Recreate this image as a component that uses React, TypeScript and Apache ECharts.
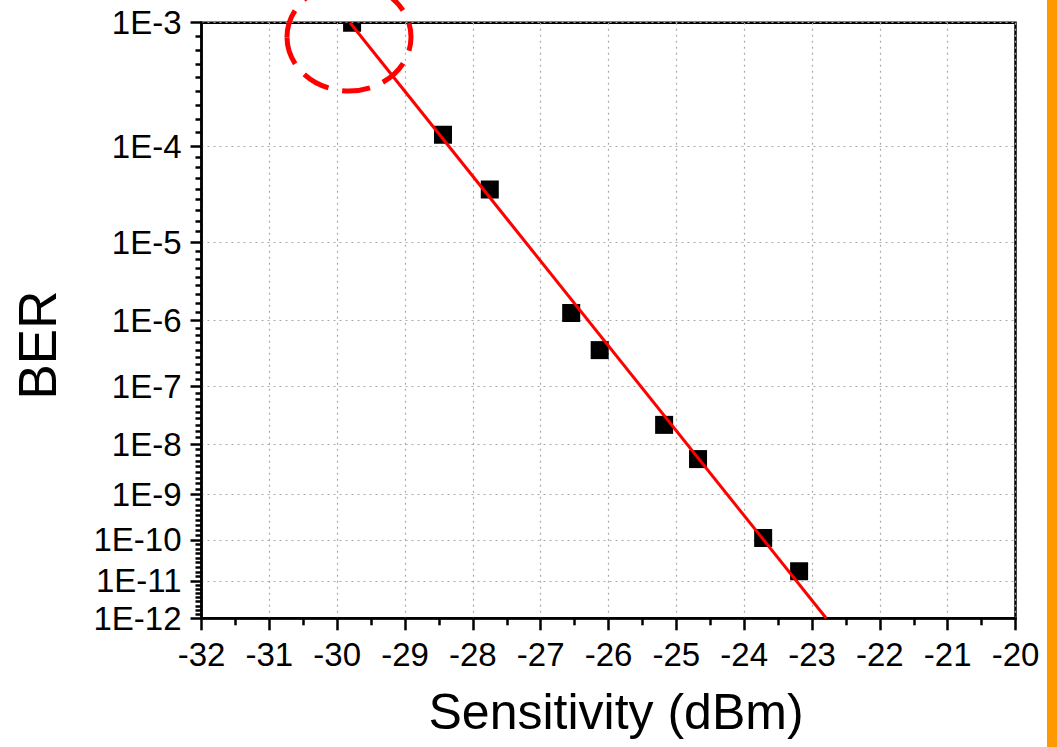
import React, { useEffect, useRef } from 'react';
import * as echarts from 'echarts';

// ---------- data ----------
const xMin = -32;
const xMax = -20;
const xTickLabels = ['-32', '-31', '-30', '-29', '-28', '-27', '-26', '-25', '-24', '-23', '-22', '-21', '-20'];

const berMajorValues = [1e-3, 1e-4, 1e-5, 1e-6, 1e-7, 1e-8, 1e-9, 1e-10, 1e-11, 1e-12];
const berMajorLabels = ['1E-3', '1E-4', '1E-5', '1E-6', '1E-7', '1E-8', '1E-9', '1E-10', '1E-11', '1E-12'];

const measuredSensitivity = [-29.78, -28.44, -27.75, -26.55, -26.13, -25.18, -24.68, -23.72, -23.19];
const measuredBER = [1e-3, 1.28e-4, 3.77e-5, 1.27e-6, 3.73e-7, 2.24e-8, 5.2e-9, 1.11e-10, 1.75e-11];

const fitSensitivity = [-29.81, -22.79];
const fitBER = [1e-3, 1e-12];

// BER probability scale: log10(-log10(BER))
const tf = (b: number) => Math.log10(-Math.log10(b));

export default function App() {
  const ref = useRef<HTMLDivElement>(null);

  useEffect(() => {
    const chart = echarts.init(ref.current!, null, { renderer: 'svg' });
    const majorT = berMajorValues.map(tf);
    const minorT: number[] = [];
    for (let i = 0; i < majorT.length - 1; i++) {
      for (let j = 1; j < 9; j++) {
        minorT.push(majorT[i] + ((majorT[i + 1] - majorT[i]) * j) / 9);
      }
    }
    const yMin = majorT[0];
    const yMax = majorT[majorT.length - 1];
    const labelFor = (v: number) => {
      let best = 0;
      for (let i = 1; i < majorT.length; i++) {
        if (Math.abs(majorT[i] - v) < Math.abs(majorT[best] - v)) best = i;
      }
      return berMajorLabels[best];
    };
    const font = '"Liberation Sans", Arial, sans-serif';
    const axisLineStyle = { color: '#000', width: 2.5 };
    const dotted = { color: '#aaa', width: 1.2, type: [2, 4] };

    chart.setOption({
      animation: false,
      grid: {
        left: 201.5,
        right: 41.5,
        top: 22.7,
        bottom: 128.7,
        show: true,
        borderColor: '#000',
        borderWidth: 2.5,
        containLabel: false,
        outerBoundsMode: 'none',
      },
      xAxis: {
        type: 'value',
        min: xMin,
        max: xMax,
        interval: 1,
        axisLine: { show: true, onZero: false, lineStyle: axisLineStyle },
        axisTick: { show: true, inside: false, length: 12, lineStyle: axisLineStyle },
        minorTick: { show: true, splitNumber: 2, length: 7, lineStyle: axisLineStyle },
        minorSplitLine: { show: false },
        axisLabel: {
          margin: 20,
          fontSize: 33,
          fontFamily: font,
          color: '#000',
          formatter: (v: number) => xTickLabels[Math.round(v - xMin)],
        },
        splitLine: { show: true, lineStyle: dotted },
      },
      yAxis: [
        {
          type: 'value',
          inverse: true,
          min: yMin,
          max: yMax,
          axisLine: { show: true, onZero: false, lineStyle: axisLineStyle },
          axisTick: { show: true, inside: false, length: 11, customValues: majorT, lineStyle: axisLineStyle },
          axisLabel: {
            customValues: majorT,
            formatter: labelFor,
            margin: 20,
            fontSize: 33,
            fontFamily: font,
            color: '#000',
          },
          splitLine: { show: true, lineStyle: dotted },
        },
        {
          type: 'value',
          inverse: true,
          min: yMin,
          max: yMax,
          position: 'left',
          offset: 0,
          axisLine: { show: false },
          axisTick: { show: true, inside: false, length: 6, customValues: minorT, lineStyle: axisLineStyle },
          axisLabel: { show: false },
          splitLine: { show: false },
        },
      ],
      series: [
        {
          type: 'custom',
          coordinateSystem: 'cartesian2d',
          clip: true,
          z: 2,
          data: measuredSensitivity.map((x, i) => [x, tf(measuredBER[i])]),
          renderItem: (params: any, api: any) => {
            const p = api.coord([api.value(0), api.value(1)]);
            const s = 18;
            return {
              type: 'rect',
              shape: { x: p[0] - s / 2, y: p[1] - s / 2, width: s, height: s },
              style: { fill: '#000' },
            };
          },
        },
        {
          type: 'line',
          z: 3,
          clip: true,
          symbol: 'none',
          showSymbol: false,
          lineStyle: { color: '#ff0000', width: 3 },
          itemStyle: { color: '#ff0000' },
          data: fitSensitivity.map((x, i) => [x, tf(fitBER[i])]),
        },
      ],
      graphic: [
        {
          type: 'rect',
          shape: { x: 1047, y: 0, width: 10, height: 747 },
          style: { fill: '#ff9900' },
          z: 100,
        },
        {
          type: 'ellipse',
          shape: { cx: 349, cy: 37, rx: 62, ry: 54 },
          style: { fill: 'none', stroke: '#ff0000', lineWidth: 5, lineDash: [28, 14] },
          z: 100,
        },
        {
          type: 'text',
          x: 37,
          y: 345,
          rotation: Math.PI / 2,
          style: {
            text: 'BER',
            fontSize: 53,
            fontFamily: font,
            fill: '#000',
            align: 'center',
            verticalAlign: 'middle',
          },
          z: 100,
        },
        {
          type: 'text',
          x: 616,
          y: 712,
          style: {
            text: 'Sensitivity (dBm)',
            fontSize: 50,
            fontFamily: font,
            fill: '#000',
            align: 'center',
            verticalAlign: 'middle',
          },
          z: 100,
        },
      ],
    });

    return () => {
      chart.dispose();
    };
  }, []);

  return (
    <div
      ref={ref}
      style={{ position: 'absolute', left: 0, top: 0, width: 1057, height: 747, background: '#fff' }}
    />
  );
}
